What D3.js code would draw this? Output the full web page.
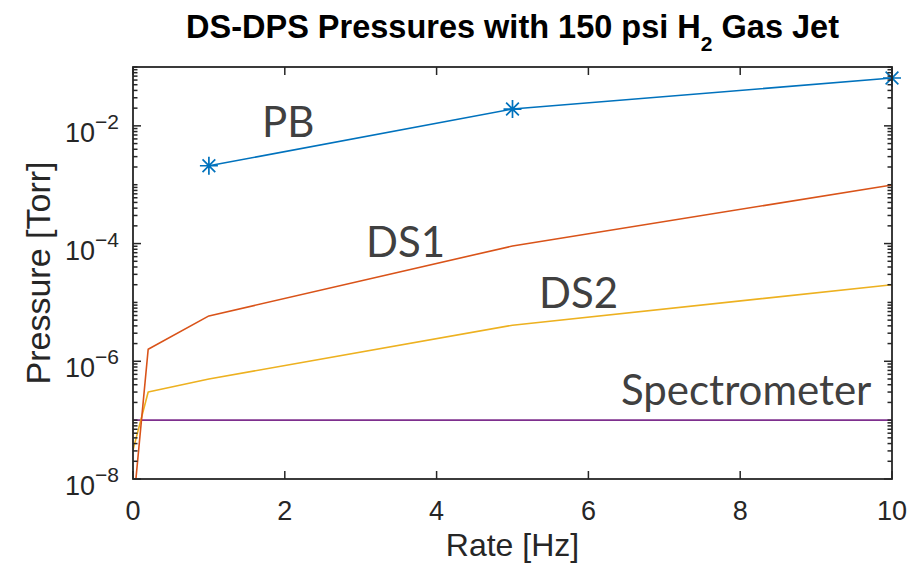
<!DOCTYPE html>
<html>
<head>
<meta charset="utf-8">
<script src="https://cdn.jsdelivr.net/npm/d3@7"></script>
<style>
  html, body { margin: 0; padding: 0; background: #fff; }
  svg { display: block; }
</style>
</head>
<body>
<svg id="chart" width="913" height="563"></svg>
<script>
// Pulse rate of the gas jet [Hz] and pressures [Torr] at each gauge
const pbRate = [1, 5, 10];
const pbPressure = [2.1e-3, 1.93e-2, 6.5e-2];

const ds1Rate = [0, 0.2, 1, 5, 10];
const ds1Pressure = [3e-9, 1.6e-6, 5.9e-6, 9.1e-5, 9.9e-4];

const ds2Rate = [0, 0.2, 1, 5, 10];
const ds2Pressure = [3.1e-8, 3.0e-7, 5.0e-7, 4.1e-6, 2.0e-5];

const specRate = [0, 10];
const specPressure = [1e-7, 1e-7];

const xTicks = [0, 2, 4, 6, 8, 10];
const yTickExponents = [-8, -6, -4, -2];

const W = 913, H = 563;
const plot = { left: 133, right: 892, top: 67, bottom: 479 };
const axisColor = "#262626";
const labelColor = "#404040";

const svg = d3.select("#chart");

const x = d3.scaleLinear().domain([0, 10]).range([plot.left, plot.right]);
const y = d3.scaleLog().domain([1e-8, 1e-1]).range([plot.bottom, plot.top]);

svg.append("defs").append("clipPath").attr("id", "plotClip")
  .append("rect")
  .attr("x", plot.left).attr("y", plot.top)
  .attr("width", plot.right - plot.left).attr("height", plot.bottom - plot.top);

// Series lines
const line = d3.line().x(d => x(d[0])).y(d => y(d[1]));
const series = [
  { rate: specRate, p: specPressure, color: "#7E2F8E" },
  { rate: ds2Rate, p: ds2Pressure, color: "#EDB120" },
  { rate: ds1Rate, p: ds1Pressure, color: "#D95319" },
  { rate: pbRate, p: pbPressure, color: "#0072BD" }
];
const lines = svg.append("g").attr("clip-path", "url(#plotClip)");
series.forEach(s => {
  lines.append("path")
    .datum(s.rate.map((r, i) => [r, s.p[i]]))
    .attr("d", line)
    .attr("fill", "none")
    .attr("stroke", s.color)
    .attr("stroke-width", 1.6)
    .attr("stroke-linejoin", "round");
});

// Asterisk markers on the PB series
const markers = svg.append("g");
const mr = 9;
pbRate.forEach((r, i) => {
  const cx = x(r), cy = y(pbPressure[i]);
  const d = 0.7071 * mr;
  markers.append("path")
    .attr("d", `M${cx - mr},${cy}L${cx + mr},${cy}M${cx},${cy - mr}L${cx},${cy + mr}` +
               `M${cx - d},${cy - d}L${cx + d},${cy + d}M${cx - d},${cy + d}L${cx + d},${cy - d}`)
    .attr("stroke", "#0072BD")
    .attr("stroke-width", 1.7)
    .attr("fill", "none");
});

// Axes box with inward ticks on all four sides
const ax = svg.append("g").attr("stroke", axisColor).attr("fill", "none");
ax.append("rect")
  .attr("x", plot.left).attr("y", plot.top)
  .attr("width", plot.right - plot.left).attr("height", plot.bottom - plot.top)
  .attr("stroke-width", 1.8);

const majorLen = 8, minorLen = 4.5;
xTicks.forEach(t => {
  const px = x(t);
  ax.append("line").attr("x1", px).attr("x2", px).attr("y1", plot.bottom).attr("y2", plot.bottom - majorLen).attr("stroke-width", 1.5);
  ax.append("line").attr("x1", px).attr("x2", px).attr("y1", plot.top).attr("y2", plot.top + majorLen).attr("stroke-width", 1.5);
});

for (let e = -8; e <= -1; e++) {
  for (let m = 1; m <= 9; m++) {
    const v = m * Math.pow(10, e);
    if (v > 1e-1 * 1.0001) continue;
    const py = y(v);
    const isMajor = m === 1 && yTickExponents.includes(e);
    const len = isMajor ? majorLen : minorLen;
    ax.append("line").attr("x1", plot.left).attr("x2", plot.left + len).attr("y1", py).attr("y2", py).attr("stroke-width", 1.5);
    ax.append("line").attr("x1", plot.right).attr("x2", plot.right - len).attr("y1", py).attr("y2", py).attr("stroke-width", 1.5);
  }
}

const tickFont = "'Liberation Sans', Arial, Helvetica, sans-serif";

// X tick labels
svg.append("g").selectAll("text").data(xTicks).join("text")
  .attr("x", d => x(d)).attr("y", 520)
  .attr("text-anchor", "middle")
  .attr("font-family", tickFont).attr("font-size", 27)
  .attr("fill", axisColor)
  .text(d => d);

// Y tick labels as powers of ten
const yl = svg.append("g");
yTickExponents.forEach(e => {
  const t = yl.append("text")
    .attr("x", 119).attr("y", y(Math.pow(10, e)) + 16)
    .attr("text-anchor", "end")
    .attr("font-family", tickFont).attr("fill", axisColor);
  t.append("tspan").attr("font-size", 27).text("10");
  t.append("tspan").attr("font-size", 21).attr("dy", -13).text("\u2212" + Math.abs(e));
});

// Axis titles
svg.append("text")
  .attr("x", (plot.left + plot.right) / 2).attr("y", 556)
  .attr("text-anchor", "middle")
  .attr("font-family", tickFont).attr("font-size", 32)
  .attr("fill", axisColor)
  .text("Rate [Hz]");

svg.append("text")
  .attr("transform", `translate(50, ${(plot.top + plot.bottom) / 2}) rotate(-90)`)
  .attr("text-anchor", "middle")
  .attr("font-family", tickFont).attr("font-size", 34)
  .attr("fill", axisColor)
  .text("Pressure [Torr]");

// Title with subscript
const title = svg.append("text")
  .attr("x", (plot.left + plot.right) / 2).attr("y", 38)
  .attr("text-anchor", "middle")
  .attr("font-family", tickFont).attr("font-weight", "bold")
  .attr("font-size", 32.5).attr("fill", "#000");
title.append("tspan").text("DS-DPS Pressures with 150 psi H");
title.append("tspan").attr("font-size", 21).attr("dy", 13).text("2");
title.append("tspan").attr("dy", -13).text(" Gas Jet");

// Series annotations
const notes = [
  { text: "PB", x: 262, y: 137 },
  { text: "DS1", x: 366, y: 257 },
  { text: "DS2", x: 539, y: 308 },
  { text: "Spectrometer", x: 621, y: 405 }
];
svg.append("g").selectAll("text").data(notes).join("text")
  .attr("x", d => d.x).attr("y", d => d.y)
  .attr("font-family", "Lato, sans-serif").attr("font-size", 42)
  .attr("fill", labelColor)
  .text(d => d.text);
</script>
</body>
</html>
